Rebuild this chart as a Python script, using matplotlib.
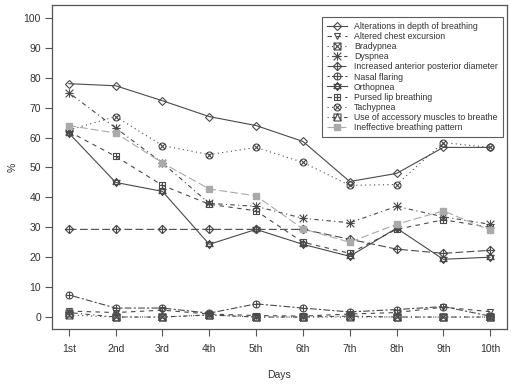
import matplotlib
matplotlib.use("Agg")
import matplotlib.pyplot as plt
from matplotlib.path import Path
import numpy as np

days = ['1st', '2nd', '3rd', '4th', '5th', '6th', '7th', '8th', '9th', '10th']
alterations = [78, 77.3, 72.3, 67, 64, 58.7, 45.3, 48, 56.7, 56.7]
altered_chest = [2, 1.5, 2.3, 1, 0.5, 0.3, 1, 1.5, 3.3, 1.8]
bradypnea = [0.7, 0, 0, 0.7, 0, 0, 0, 0, 0, 0]
dyspnea = [75, 63.2, 51.5, 38, 37, 33, 31.5, 37, 33.5, 31]
increased_ap = [29.3, 29.3, 29.3, 29.3, 29.3, 29.3, 26, 22.7, 21.3, 22.3]
nasal_flaring = [7.4, 3, 3, 1.3, 4.4, 3, 1.7, 2.5, 3.5, 0.3]
orthopnea = [61.5, 45, 42, 24.3, 29.3, 24.3, 20.3, 29.7, 19.3, 20]
pursed_lip = [62, 53.7, 44, 37.7, 35.5, 25, 21.3, 29.3, 32.5, 30]
tachypnea = [62.5, 67, 57.3, 54.3, 56.7, 51.7, 44, 44.3, 58.3, 56.7]
accessory = [1.5, 0, 0, 0.7, 0, 0, 0.3, 0, 0, 0]
ineffective = [64, 61.5, 51.5, 42.8, 40.5, 29.5, 25, 31, 35.5, 29]

labels = ['Alterations in depth of breathing', 'Altered chest excursion', 'Bradypnea',
          'Dyspnea', 'Increased anterior posterior diameter', 'Nasal flaring',
          'Orthopnea', 'Pursed lip breathing', 'Tachypnea',
          'Use of accessory muscles to breathe', 'Ineffective breathing pattern']
series = [alterations, altered_chest, bradypnea, dyspnea, increased_ap, nasal_flaring,
          orthopnea, pursed_lip, tachypnea, accessory, ineffective]

# custom R-like markers
M, L = Path.MOVETO, Path.LINETO
def seg(pts):
    return Path(pts, [M] + [L] * (len(pts) - 1))
sq = seg([(-1, -1), (1, -1), (1, 1), (-1, 1), (-1, -1)])
xx = Path.make_compound_path(seg([(-1, -1), (1, 1)]), seg([(-1, 1), (1, -1)]))
pl = Path.make_compound_path(seg([(-1.3, 0), (1.3, 0)]), seg([(0, -1.3), (0, 1.3)]))
pl1 = Path.make_compound_path(seg([(-1, 0), (1, 0)]), seg([(0, -1), (0, 1)]))
xx7 = Path.make_compound_path(seg([(-0.92, -0.92), (0.92, 0.92)]), seg([(-0.92, 0.92), (0.92, -0.92)]))
circ = Path.unit_circle()
dia = seg([(0, -1.3), (1.3, 0), (0, 1.3), (-1.3, 0), (0, -1.3)])
star = Path.make_compound_path(pl1, xx7)
sqx = Path.make_compound_path(sq, xx)
diaplus = Path.make_compound_path(dia, pl)
circplus = Path.make_compound_path(circ, pl1)
hexa = Path.make_compound_path(seg([(-1.1, -0.65), (1.1, -0.65), (0, 1.25), (-1.1, -0.65)]),
                               seg([(-1.1, 0.65), (1.1, 0.65), (0, -1.25), (-1.1, 0.65)]))
sqplus = Path.make_compound_path(sq, pl1)
circx = Path.make_compound_path(circ, seg([(-0.7, -0.7), (0.7, 0.7)]), seg([(-0.7, 0.7), (0.7, -0.7)]))
sqtri = Path.make_compound_path(sq, seg([(-1, -1), (0, 1), (1, -1)]))

dk = '#4a4a4a'
gr = '#aaaaaa'
styles = [
    dict(ls='-', marker='D', ms=4.5),
    dict(ls=(0, (4, 4)), marker='v', ms=5),
    dict(ls=(0, (1, 3)), marker=sqx, ms=5),
    dict(ls=(0, (1, 3, 4, 3)), marker=star, ms=6),
    dict(ls=(0, (7, 3)), marker=diaplus, ms=6),
    dict(ls=(0, (2, 2, 6, 2)), marker=circplus, ms=5),
    dict(ls='-', marker=hexa, ms=6),
    dict(ls=(0, (4, 4)), marker=sqplus, ms=5),
    dict(ls=(0, (1, 3)), marker=circx, ms=5),
    dict(ls=(0, (1, 3, 4, 3)), marker=sqtri, ms=5),
]

fig = plt.figure(figsize=(5.11, 3.84), dpi=100)
ax = fig.add_axes([52 / 511, 1 - 329 / 384, (507 - 52) / 511, (329 - 5) / 384])
x = np.arange(1, len(days) + 1)
for i, (vals, lab) in enumerate(zip(series, labels)):
    if i < 10:
        st = styles[i]
        ax.plot(x, vals, color=dk, lw=0.8, ls=st['ls'], marker=st['marker'],
                ms=st['ms'], mfc='none', mec=dk, mew=0.8, label=lab)
    else:
        ax.plot(x, vals, color=gr, lw=0.8, ls=(0, (7, 3)), marker='s', ms=4,
                mfc=gr, mec=gr, label=lab)

ax.set_xlim(0.64, 10.36)
ax.set_ylim(-4, 104.3)
ax.set_xticks(x)
ax.set_xticklabels(days)
ax.set_yticks(np.arange(0, 101, 10))
ax.tick_params(direction='out', length=5, width=0.8, color='#555555',
               labelsize=7.5, labelcolor='#333333', pad=3)
ax.tick_params(axis='x', pad=6)
for s in ax.spines.values():
    s.set_color('#555555')
    s.set_linewidth(0.9)
for t in ax.get_xticklabels() + ax.get_yticklabels():
    t.set_fontfamily('Liberation Sans')
ax.set_xlabel('Days', fontsize=7.5, color='#333333', family='Liberation Sans', labelpad=11)
ax.set_ylabel('%', fontsize=7.5, color='#333333', family='Liberation Sans', labelpad=4)

leg = ax.legend(loc='upper right', bbox_to_anchor=(1 - 4 / 455, 1 - 12 / 324),
                prop={'family': 'Liberation Sans', 'size': 6.3},
                frameon=True, fancybox=False, edgecolor='#333333', handlelength=2.3,
                handletextpad=0.8, labelspacing=0.12, borderpad=0.6, borderaxespad=0)
leg.get_frame().set_linewidth(0.8)
for t in leg.get_texts():
    t.set_color('#333333')

fig.savefig('out.png', dpi=100)
